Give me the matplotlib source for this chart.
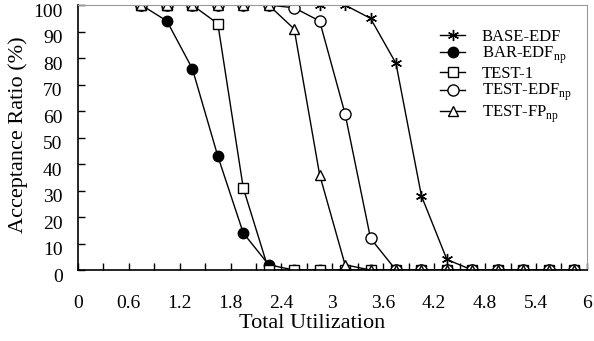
import matplotlib.pyplot as plt
import matplotlib.transforms as mtransforms
import numpy as np

plt.rcParams['font.family'] = ['Liberation Serif', 'DejaVu Serif']
plt.rcParams['mathtext.fontset'] = 'custom'
plt.rcParams['mathtext.rm'] = 'Liberation Serif'

util = [0.75, 1.05, 1.35, 1.65, 1.95, 2.25, 2.55, 2.85, 3.15,
        3.45, 3.75, 4.05, 4.35, 4.65, 4.95, 5.25, 5.55, 5.85]
base_edf = [100, 100, 100, 100, 100, 100, 100, 100, 100, 95, 78, 28, 4, 0, 0, 0, 0, 0]
bar_edf = [100, 94, 76, 43, 14, 2, 0, 0, 0, 0, 0, 0, 0, 0, 0, 0, 0, 0]
test1 = [100, 100, 100, 93, 31, 0, 0, 0, 0, 0, 0, 0, 0, 0, 0, 0, 0, 0]
test_edf = [100, 100, 100, 100, 100, 100, 99, 94, 59, 12, 0, 0, 0, 0, 0, 0, 0, 0]
test_fp = [100, 100, 100, 100, 100, 100, 91, 36, 2, 0, 0, 0, 0, 0, 0, 0, 0, 0]
xlabels = ['0', '0.6', '1.2', '1.8', '2.4', '3', '3.6', '4.2', '4.8', '5.4', '6']

fig = plt.figure(figsize=(5.94, 3.41), dpi=100)
ax = fig.add_axes([0.131, 0.208, 0.857, 0.777])

ax.plot(util, base_edf, c='k', lw=1, marker=(6, 2, 0), ms=8, mew=1, label='BASE-EDF')
ax.plot(util, bar_edf, c='k', lw=1, marker='o', ms=7.5, mfc='k', label=r'BAR-EDF$_{\mathrm{np}}$')
ax.plot(util, test1, c='k', lw=1, marker='s', ms=7.5, mfc='w', label='TEST-1')
ax.plot(util, test_edf, c='k', lw=1, marker='o', ms=8, mfc='w', label=r'TEST-EDF$_{\mathrm{np}}$')
ax.plot(util, test_fp, c='k', lw=1, marker='^', ms=7.5, mfc='w', label=r'TEST-FP$_{\mathrm{np}}$')

ax.set_xlim(0, 6)
ax.set_ylim(0, 100)
ax.set_xticks(np.arange(0, 6.01, 0.6))
ax.set_xticklabels(xlabels)
ax.set_xticks(np.arange(0, 6.01, 0.3), minor=True)
ax.set_yticks(range(0, 101, 10))
ax.tick_params(axis='both', which='both', direction='in', labelsize=14, length=5, width=1)
ax.tick_params(axis='x', pad=18)
ax.tick_params(axis='y', pad=11)

# y labels sit a bit below their ticks in the original
shift = mtransforms.ScaledTranslation(0, -5/100, fig.dpi_scale_trans)
for lab in ax.get_yticklabels():
    lab.set_transform(lab.get_transform() + shift)

for s in ['top', 'right']:
    ax.spines[s].set_color('#999999')
for s in ['left', 'bottom']:
    ax.spines[s].set_linewidth(1.2)

fig.text(312/594, 1 - 324/341, 'Total Utilization', fontsize=16, ha='center', va='center')
fig.text(18/594, 1 - 135/341, 'Acceptance Ratio (%)', fontsize=16, ha='center', va='center',
         rotation=90)

ax.legend(loc='upper left', bbox_to_anchor=(0.699, 0.935), frameon=False, fontsize=12,
          handlelength=1.5, labelspacing=0.0, handletextpad=1.0, borderaxespad=0)

fig.savefig('out.png', dpi=100)
